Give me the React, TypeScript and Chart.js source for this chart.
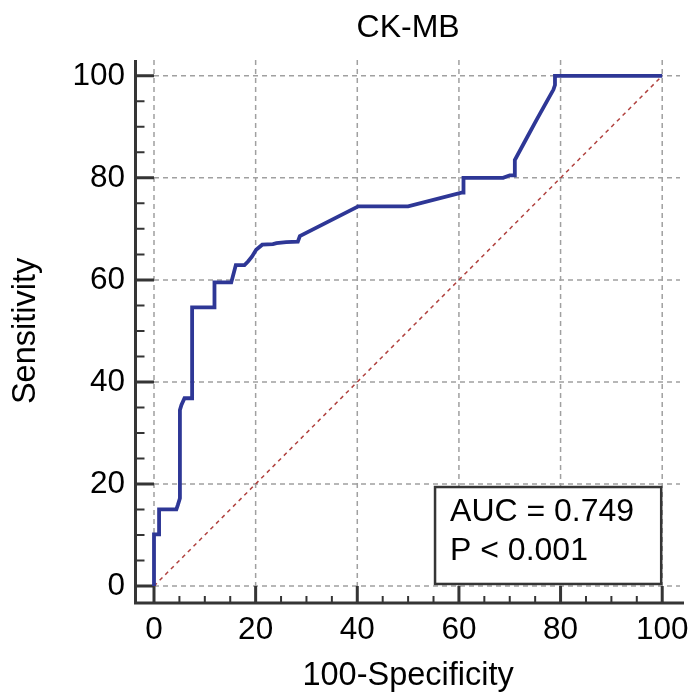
import { useEffect, useRef } from "react";
import { Chart, registerables } from "chart.js";

Chart.register(...registerables);

// ROC curve (x = 100-Specificity, y = Sensitivity)
const specificity100 = [
  0, 0, 1.0, 1.0, 4.4, 4.7, 5.1, 5.1, 5.4, 6.0, 7.5, 7.5, 11.9, 11.9, 15.2, 15.5, 16.1, 17.8,
  18.5, 19.3, 20.1, 21.3, 23.4, 24.1, 26.0, 28.3, 28.7, 40.2, 50.0, 60.5, 60.9, 60.9, 68.7,
  70.0, 71.0, 71.0, 73.5, 75.3, 77.3, 78.6, 78.9, 78.9, 100,
];
const sensitivity = [
  0, 10.1, 10.1, 15.0, 15.0, 15.9, 17.2, 34.5, 35.5, 36.8, 36.8, 54.6, 54.6, 59.5, 59.5, 60.6,
  62.9, 62.9, 63.6, 64.6, 65.9, 66.9, 67.0, 67.2, 67.4, 67.5, 68.6, 74.4, 74.4, 77.1, 77.1, 80.0,
  80.0, 80.5, 80.5, 83.5, 88.1, 91.4, 95.0, 97.3, 98.2, 100, 100,
];
const diagonalX = [0, 100];
const diagonalY = [0, 100];

const xTicks = [0, 20, 40, 60, 80, 100];
const yTicks = [0, 20, 40, 60, 80, 100];
const minorTicks = [5, 10, 15, 25, 30, 35, 45, 50, 55, 65, 70, 75, 85, 90, 95];

const chartTitle = "CK-MB";
const xTitle = "100-Specificity";
const yTitle = "Sensitivity";
const statLines = ["AUC = 0.749", "P < 0.001"];

const FONT = "'Liberation Sans', Arial, Helvetica, sans-serif";
const AXIS_COLOR = "#353535";

const decorPlugin = {
  id: "rocDecor",
  beforeDatasetsDraw(chart: any) {
    const { ctx, chartArea: ca, scales } = chart;
    const x = scales.x;
    const y = scales.y;
    ctx.save();
    // dashed grid
    ctx.strokeStyle = "#a0a0a0";
    ctx.lineWidth = 1.5;
    ctx.setLineDash([5, 4]);
    for (const v of xTicks) {
      const px = x.getPixelForValue(v);
      ctx.beginPath();
      ctx.moveTo(px, ca.top);
      ctx.lineTo(px, ca.bottom);
      ctx.stroke();
    }
    for (const v of yTicks) {
      const py = y.getPixelForValue(v);
      ctx.beginPath();
      ctx.moveTo(ca.left, py);
      ctx.lineTo(ca.right, py);
      ctx.stroke();
    }
    ctx.setLineDash([]);

    // offset axes
    const x0 = x.getPixelForValue(0);
    const y0 = y.getPixelForValue(0);
    const axX = x0 - 18.5;
    const axY = y0 + 17;
    ctx.strokeStyle = AXIS_COLOR;
    ctx.lineWidth = 3;
    ctx.beginPath();
    ctx.moveTo(axX, ca.top);
    ctx.lineTo(axX, axY + 1.5);
    ctx.moveTo(axX - 1.5, axY);
    ctx.lineTo(ca.right + 4, axY);
    ctx.stroke();

    // major ticks
    ctx.beginPath();
    for (const v of yTicks) {
      const py = y.getPixelForValue(v);
      ctx.moveTo(axX, py);
      ctx.lineTo(x0, py);
    }
    for (const v of xTicks) {
      const px = x.getPixelForValue(v);
      ctx.moveTo(px, axY);
      ctx.lineTo(px, y0);
    }
    ctx.stroke();

    // minor ticks
    ctx.lineWidth = 2;
    ctx.beginPath();
    for (const v of minorTicks) {
      const py = y.getPixelForValue(v);
      ctx.moveTo(axX, py);
      ctx.lineTo(axX + 9, py);
      const px = x.getPixelForValue(v);
      ctx.moveTo(px, axY);
      ctx.lineTo(px, axY - 7);
    }
    ctx.stroke();
    ctx.restore();
  },
  afterDraw(chart: any) {
    const { ctx, scales } = chart;
    const x = scales.x;
    const y = scales.y;
    const cx = x.getPixelForValue(50);
    const cy = y.getPixelForValue(50);
    ctx.save();
    ctx.fillStyle = "#000";
    ctx.textBaseline = "middle";
    ctx.textAlign = "center";
    ctx.font = `32px ${FONT}`;
    ctx.fillText(chartTitle, cx, 28);
    ctx.font = `32.5px ${FONT}`;
    ctx.fillText(xTitle, cx, 676);
    ctx.save();
    ctx.translate(26, cy);
    ctx.rotate(-Math.PI / 2);
    ctx.fillText(yTitle, 0, 0);
    ctx.restore();

    // stats box
    const bx = x.getPixelForValue(55.3);
    const bx2 = x.getPixelForValue(99.8);
    const by = y.getPixelForValue(19.4);
    const by2 = y.getPixelForValue(0.4);
    ctx.fillStyle = "#fff";
    ctx.fillRect(bx, by, bx2 - bx, by2 - by);
    ctx.strokeStyle = AXIS_COLOR;
    ctx.lineWidth = 2.5;
    ctx.strokeRect(bx, by, bx2 - bx, by2 - by);
    ctx.fillStyle = "#000";
    ctx.textAlign = "left";
    ctx.font = `32px ${FONT}`;
    ctx.fillText(statLines[0], bx + 15, by + 25);
    ctx.fillText(statLines[1], bx + 15, by + 64);
    ctx.restore();
  },
};

export default function App() {
  const canvasRef = useRef<HTMLCanvasElement | null>(null);

  useEffect(() => {
    const canvas = canvasRef.current;
    if (!canvas) return;
    const rocPoints = specificity100.map((v, i) => ({ x: v, y: sensitivity[i] }));
    const diagPoints = diagonalX.map((v, i) => ({ x: v, y: diagonalY[i] }));
    const tickFont = { family: FONT, size: 31.5 };

    const chart = new Chart(canvas, {
      type: "scatter",
      data: {
        datasets: [
          {
            label: "ROC",
            data: rocPoints,
            showLine: true,
            borderColor: "#2e3796",
            borderWidth: 3.8,
            pointRadius: 0,
            tension: 0,
            clip: false as any,
          },
          {
            label: "Reference",
            data: diagPoints,
            showLine: true,
            borderColor: "#b0413e",
            borderWidth: 1.5,
            borderDash: [4, 4],
            pointRadius: 0,
            clip: false as any,
          },
        ],
      },
      options: {
        animation: false,
        responsive: false,
        events: [],
        layout: { padding: { top: 60, right: 14, bottom: 0, left: 0 } },
        plugins: {
          legend: { display: false },
          tooltip: { enabled: false },
          title: { display: false },
        },
        scales: {
          x: {
            type: "linear",
            min: 0,
            max: 103.5,
            grid: { display: false, drawTicks: false },
            border: { display: false },
            ticks: { font: tickFont, color: "#000", padding: 25, maxRotation: 0, autoSkip: false },
            afterBuildTicks: (s: any) => {
              s.ticks = xTicks.map((v) => ({ value: v }));
            },
            afterFit: (s: any) => {
              s.height = 110;
              s.paddingLeft = 0;
              s.paddingRight = 0;
            },
          },
          y: {
            type: "linear",
            min: 0,
            max: 103.1,
            grid: { display: false, drawTicks: false },
            border: { display: false },
            ticks: { font: tickFont, color: "#000", padding: 29, autoSkip: false },
            afterBuildTicks: (s: any) => {
              s.ticks = yTicks.map((v) => ({ value: v }));
            },
            afterFit: (s: any) => {
              s.width = 154;
              s.paddingTop = 0;
              s.paddingBottom = 0;
            },
          },
        },
      },
      plugins: [decorPlugin],
    });
    return () => chart.destroy();
  }, []);

  return (
    <div style={{ position: "absolute", left: 0, top: 0, width: 694, height: 696, background: "#fff" }}>
      <canvas ref={canvasRef} width={694} height={696} style={{ display: "block" }} />
    </div>
  );
}
